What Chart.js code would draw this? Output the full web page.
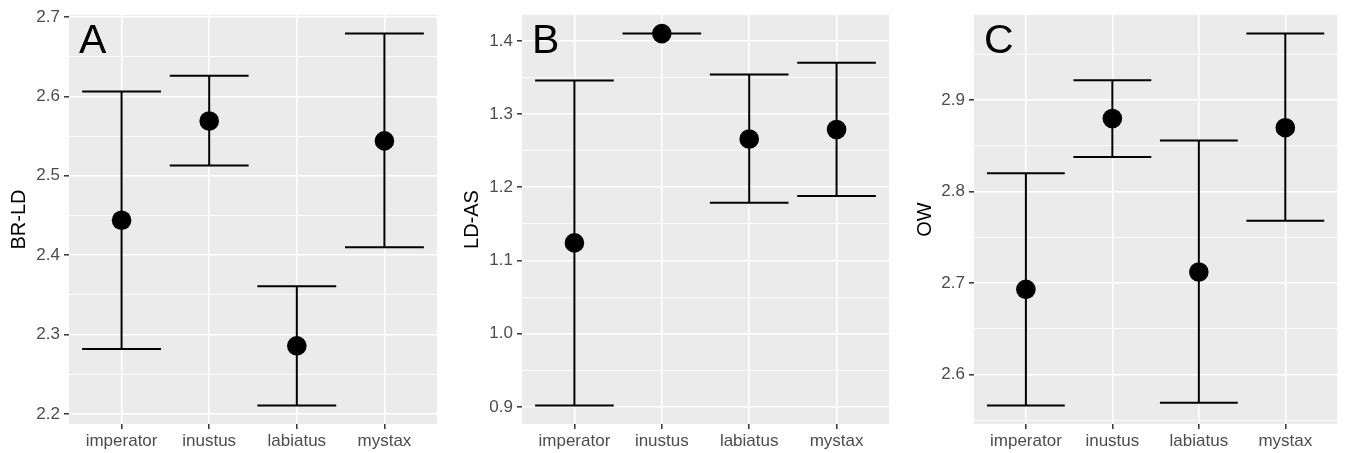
<!DOCTYPE html>
<html>
<head>
<meta charset="utf-8">
<script src="https://cdn.jsdelivr.net/npm/chart.js"></script>
<style>
  body { margin: 0; background: #ffffff; }
  canvas { position: absolute; top: 0; }
</style>
</head>
<body>
<canvas id="panelA" width="449" height="453" style="left:0px"></canvas>
<canvas id="panelB" width="450" height="453" style="left:450px"></canvas>
<canvas id="panelC" width="447" height="453" style="left:900px"></canvas>
<script>
// categories on the x axis (same for all panels)
const species = ["imperator", "inustus", "labiatus", "mystax"];
const xPos = [1, 2, 3, 4];

// panel A: BR-LD
const meanA  = [2.444, 2.569, 2.286, 2.544];
const lowerA = [2.282, 2.513, 2.211, 2.410];
const upperA = [2.606, 2.626, 2.361, 2.679];
const ticksA = [2.2, 2.3, 2.4, 2.5, 2.6, 2.7];

// panel B: LD-AS
const meanB  = [1.124, 1.410, 1.266, 1.279];
const lowerB = [0.902, 1.410, 1.179, 1.188];
const upperB = [1.346, 1.410, 1.354, 1.370];
const ticksB = [0.9, 1.0, 1.1, 1.2, 1.3, 1.4];

// panel C: OW
const meanC  = [2.693, 2.880, 2.712, 2.870];
const lowerC = [2.566, 2.838, 2.569, 2.768];
const upperC = [2.820, 2.922, 2.856, 2.973];
const ticksC = [2.6, 2.7, 2.8, 2.9];

const FONT = "'Liberation Sans', Arial, sans-serif";

const panelPlugin = {
  id: "panel",
  beforeDraw(chart) {
    const a = chart.chartArea;
    const ctx = chart.ctx;
    ctx.save();
    ctx.fillStyle = "#EBEBEB";
    ctx.fillRect(a.left, a.top, a.right - a.left, a.bottom - a.top);
    ctx.restore();
  },
  afterDraw(chart, args, opts) {
    const a = chart.chartArea;
    const ctx = chart.ctx;
    ctx.save();
    ctx.fillStyle = "#000000";
    ctx.font = "41px " + FONT;
    ctx.textAlign = "left";
    ctx.textBaseline = "alphabetic";
    ctx.fillText(opts.letter, a.left + 10, a.top + 38);
    ctx.restore();
  }
};

function makePanel(id, letter, title, means, lower, upper, majors, yWidth, padRight, titlePad) {
  // ggplot style 5% expansion of the range
  const lo = Math.min(...lower), hi = Math.max(...upper);
  const ex = (hi - lo) * 0.05;
  const yMin = lo - ex, yMax = hi + ex;

  const step = majors[1] - majors[0];
  const yTicks = majors.map(v => ({ value: v, minor: false }));
  for (let v = majors[0] - step / 2; v <= yMax; v += step) {
    const r = Math.round(v * 1000) / 1000;
    if (r >= yMin && r <= yMax) yTicks.push({ value: r, minor: true });
  }
  yTicks.sort((a, b) => a.value - b.value);

  const seg = [];
  xPos.forEach((x, i) => {
    seg.push({ x: x - 0.45, y: upper[i] }, { x: x + 0.45, y: upper[i] }, { x: x, y: null });
    seg.push({ x: x, y: upper[i] }, { x: x, y: lower[i] }, { x: x, y: null });
    seg.push({ x: x - 0.45, y: lower[i] }, { x: x + 0.45, y: lower[i] }, { x: x, y: null });
  });

  new Chart(document.getElementById(id), {
    type: "scatter",
    data: {
      datasets: [
        {
          label: "mean",
          data: xPos.map((x, i) => ({ x: x, y: means[i] })),
          backgroundColor: "#000000",
          borderColor: "#000000",
          pointRadius: 9.8,
          pointHoverRadius: 9.8,
          borderWidth: 0
        },
        {
          label: "range",
          data: seg,
          showLine: true,
          spanGaps: false,
          borderColor: "#000000",
          borderWidth: 2,
          pointRadius: 0,
          pointHoverRadius: 0
        }
      ]
    },
    plugins: [panelPlugin],
    options: {
      responsive: false,
      animation: false,
      devicePixelRatio: 1,
      layout: { padding: { top: 15, right: padRight, left: 0, bottom: 0 } },
      plugins: {
        legend: { display: false },
        tooltip: { enabled: false },
        panel: { letter: letter }
      },
      scales: {
        x: {
          type: "linear",
          min: 0.4,
          max: 4.6,
          afterBuildTicks: s => { s.ticks = xPos.map(v => ({ value: v })); },
          afterFit: s => { s.height = 29; },
          border: { display: false },
          grid: { color: "#FFFFFF", lineWidth: 1.6, tickColor: "#333333", tickLength: 5, tickWidth: 1.5 },
          ticks: {
            autoSkip: false,
            maxRotation: 0,
            padding: 2,
            color: "#4D4D4D",
            font: { family: FONT, size: 17 },
            callback: v => species[v - 1]
          }
        },
        y: {
          min: yMin,
          max: yMax,
          afterBuildTicks: s => { s.ticks = yTicks.map(t => ({ value: t.value, minor: t.minor })); },
          afterFit: s => { s.width = yWidth; },
          border: { display: false },
          title: {
            display: true,
            text: title,
            color: "#000000",
            font: { family: FONT, size: 20 },
            padding: { top: titlePad, bottom: 0 }
          },
          grid: {
            color: "#FFFFFF",
            lineWidth: c => (c.tick && c.tick.minor) ? 0.8 : 1.6,
            tickColor: c => (c.tick && c.tick.minor) ? "rgba(0,0,0,0)" : "#333333",
            tickLength: 5,
            tickWidth: 1.5
          },
          ticks: {
            autoSkip: false,
            padding: 4,
            color: "#4D4D4D",
            font: { family: FONT, size: 17 },
            callback: function (v, i, arr) {
              return arr[i].minor ? "" : v.toFixed(1);
            }
          }
        }
      }
    }
  });
}

makePanel("panelA", "A", "BR-LD", meanA, lowerA, upperA, ticksA, 69, 12, 7);
makePanel("panelB", "B", "LD-AS", meanB, lowerB, upperB, ticksB, 72, 11, 10);
makePanel("panelC", "C", "OW", meanC, lowerC, upperC, ticksC, 74, 8, 13);
</script>
</body>
</html>
